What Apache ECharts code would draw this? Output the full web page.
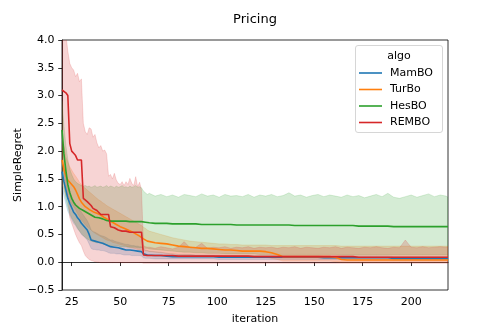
<!DOCTYPE html>
<html>
<head>
<meta charset="utf-8">
<script src="https://cdn.jsdelivr.net/npm/echarts@6/dist/echarts.min.js"></script>
<style>
  html, body { margin: 0; padding: 0; background: #fff; }
  #chart { width: 498px; height: 332px; }
</style>
</head>
<body>
<div id="chart"></div>
<script>
// iteration grid: every step early on, every 3rd later
const iters = [20,21,22,23,24,25,26,27,28,29,30,31,32,33,34,35,36,37,38,39,
  40,41,42,43,44,45,46,47,48,49,50,51,52,53,54,55,56,57,58,59,60,61,62,63,64,
  65,68,71,74,77,80,83,86,89,92,95,98,101,104,107,110,113,116,119,122,
  125,128,131,134,137,140,143,146,149,152,155,158,161,164,167,170,173,176,179,182,
  185,188,191,194,197,200,203,206,209,212,215,218,219];

const xTicks = [25, 50, 75, 100, 125, 150, 175, 200];
const algos = ['MamBO', 'TurBo', 'HesBO', 'REMBO'];
const colors = ['#1f77b4', '#ff7f0e', '#2ca02c', '#d62728'];

// MamBO
const mamboMean = [1.63,1.45,1.30,1.15,1.06,0.98,0.90,0.86,0.80,0.76,
  0.70,0.66,0.62,0.58,0.50,0.40,0.38,0.38,0.37,0.36,
  0.34,0.34,0.33,0.31,0.29,0.28,0.28,0.27,0.26,0.26,
  0.25,0.24,0.23,0.22,0.22,0.22,0.21,0.21,0.20,0.20,
  0.20,0.19,0.15,0.14,0.13,
  0.13,0.12,0.12,0.11,0.10,0.10,0.10,0.10,0.10,0.10,
  0.10,0.10,0.09,0.09,0.09,0.09,0.09,0.09,0.09,0.09,
  0.09,0.09,0.09,0.09,0.09,0.09,0.09,0.09,0.09,0.09,
  0.08,0.08,0.08,0.08,0.08,0.08,0.08,0.08,0.08,0.08,
  0.08,0.08,0.07,0.07,0.07,0.07,0.07,0.07,0.07,0.07,
  0.07,0.07,0.07];
const mamboHi = [1.85,1.70,1.55,1.40,1.28,1.18,1.10,1.05,1.00,0.95,
  0.90,0.85,0.80,0.75,0.68,0.58,0.55,0.54,0.52,0.50,
  0.48,0.47,0.46,0.44,0.42,0.40,0.40,0.38,0.37,0.36,
  0.35,0.34,0.33,0.32,0.32,0.31,0.30,0.30,0.29,0.29,
  0.28,0.28,0.24,0.22,0.21,
  0.20,0.19,0.18,0.16,0.15,0.14,0.14,0.14,0.13,0.13,
  0.13,0.13,0.13,0.12,0.12,0.12,0.12,0.12,0.12,0.12,
  0.12,0.12,0.12,0.12,0.12,0.12,0.12,0.12,0.12,0.12,
  0.11,0.11,0.11,0.11,0.11,0.11,0.11,0.11,0.11,0.11,
  0.11,0.11,0.10,0.10,0.10,0.10,0.10,0.10,0.10,0.10,
  0.10,0.10,0.10];
const mamboLo = [1.35,1.20,1.05,0.92,0.84,0.77,0.70,0.66,0.60,0.56,
  0.50,0.47,0.44,0.40,0.33,0.25,0.23,0.23,0.22,0.22,
  0.21,0.21,0.20,0.19,0.17,0.16,0.16,0.16,0.15,0.15,
  0.15,0.14,0.13,0.13,0.13,0.13,0.12,0.12,0.12,0.12,
  0.12,0.11,0.08,0.07,0.07,
  0.07,0.06,0.06,0.06,0.06,0.06,0.06,0.06,0.06,0.06,
  0.06,0.06,0.05,0.05,0.05,0.05,0.05,0.05,0.05,0.05,
  0.05,0.05,0.05,0.05,0.05,0.05,0.05,0.05,0.05,0.05,
  0.05,0.05,0.05,0.05,0.05,0.05,0.05,0.05,0.05,0.05,
  0.05,0.05,0.04,0.04,0.04,0.04,0.04,0.04,0.04,0.04,
  0.04,0.04,0.04];

// TurBo
const turboMean = [1.84,1.68,1.55,1.48,1.45,1.40,1.36,1.30,1.22,1.14,
  1.08,1.04,1.00,0.97,0.95,0.93,0.91,0.89,0.88,0.86,
  0.85,0.83,0.80,0.78,0.76,0.74,0.72,0.70,0.68,0.66,
  0.64,0.62,0.61,0.60,0.58,0.56,0.55,0.53,0.51,0.49,
  0.47,0.45,0.42,0.40,0.38,
  0.37,0.35,0.34,0.33,0.31,0.29,0.28,0.27,0.26,0.25,
  0.25,0.24,0.23,0.22,0.22,0.21,0.20,0.20,0.20,0.20,
  0.19,0.17,0.14,0.10,0.10,0.10,0.10,0.10,0.10,0.10,
  0.10,0.10,0.09,0.05,0.04,0.04,0.04,0.04,0.04,0.04,
  0.04,0.04,0.04,0.04,0.04,0.04,0.04,0.04,0.04,0.04,
  0.04,0.04,0.04];
const turboHi = [2.30,2.10,1.90,1.80,1.72,1.66,1.60,1.55,1.50,1.44,
  1.40,1.36,1.33,1.30,1.27,1.24,1.21,1.18,1.15,1.12,
  1.10,1.07,1.05,1.02,1.00,0.98,0.96,0.94,0.92,0.90,
  0.88,0.86,0.84,0.82,0.80,0.78,0.76,0.74,0.72,0.70,
  0.68,0.66,0.63,0.61,0.58,
  0.56,0.53,0.50,0.47,0.44,0.42,0.40,0.38,0.37,0.36,
  0.35,0.34,0.33,0.33,0.32,0.32,0.31,0.31,0.31,0.31,
  0.31,0.30,0.30,0.30,0.30,0.30,0.30,0.30,0.30,0.30,
  0.30,0.30,0.30,0.29,0.29,0.29,0.29,0.29,0.29,0.29,
  0.29,0.29,0.29,0.29,0.29,0.29,0.29,0.29,0.29,0.29,
  0.29,0.29,0.29];
const turboLo = [1.40,1.30,1.20,1.15,1.10,1.05,1.00,0.95,0.88,0.82,
  0.76,0.72,0.68,0.64,0.61,0.58,0.55,0.52,0.50,0.48,
  0.46,0.44,0.42,0.40,0.39,0.38,0.36,0.35,0.34,0.33,
  0.32,0.31,0.30,0.29,0.28,0.27,0.26,0.25,0.24,0.23,
  0.22,0.22,0.21,0.20,0.20,
  0.19,0.18,0.17,0.16,0.15,0.14,0.13,0.13,0.12,0.12,
  0.11,0.11,0.11,0.10,0.10,0.10,0.10,0.10,0.10,0.10,
  0.09,0.07,0.05,0.02,0.02,0.02,0.02,0.02,0.02,0.02,
  0.02,0.02,0.01,0.00,0.00,0.00,0.00,0.00,0.00,0.00,
  0.00,0.00,0.00,0.00,0.00,0.00,0.00,0.00,0.00,0.00,
  0.00,0.00,0.00];

// HesBO
const hesboMean = [2.38,1.95,1.65,1.40,1.25,1.15,1.08,1.03,1.00,0.97,
  0.95,0.93,0.91,0.89,0.87,0.85,0.83,0.81,0.80,0.80,
  0.79,0.78,0.76,0.75,0.74,0.74,0.74,0.74,0.74,0.74,
  0.74,0.74,0.74,0.74,0.74,0.73,0.73,0.73,0.73,0.73,
  0.73,0.73,0.72,0.72,0.71,
  0.71,0.70,0.70,0.70,0.69,0.69,0.69,0.69,0.69,0.68,
  0.68,0.68,0.68,0.68,0.68,0.67,0.67,0.67,0.67,0.67,
  0.67,0.67,0.67,0.67,0.67,0.66,0.66,0.66,0.66,0.66,
  0.66,0.66,0.66,0.66,0.66,0.66,0.65,0.65,0.65,0.65,
  0.65,0.65,0.64,0.64,0.64,0.64,0.64,0.64,0.64,0.64,
  0.64,0.64,0.64];
const hesboHi = [2.90,2.45,2.10,1.85,1.68,1.58,1.50,1.45,1.42,1.40,
  1.38,1.37,1.38,1.36,1.37,1.35,1.36,1.38,1.35,1.36,
  1.37,1.35,1.36,1.38,1.35,1.37,1.36,1.34,1.37,1.35,
  1.36,1.38,1.35,1.36,1.34,1.37,1.35,1.36,1.38,1.35,
  1.36,1.34,1.28,1.25,1.22,
  1.24,1.19,1.22,1.18,1.21,1.17,1.22,1.20,1.18,1.23,
  1.19,1.21,1.17,1.22,1.19,1.20,1.18,1.22,1.17,1.21,
  1.19,1.22,1.18,1.20,1.25,1.19,1.21,1.17,1.20,1.22,
  1.18,1.21,1.19,1.17,1.21,1.18,1.20,1.16,1.19,1.22,
  1.18,1.24,1.17,1.15,1.18,1.21,1.17,1.20,1.23,1.18,
  1.21,1.19,1.17];
const hesboLo = [1.80,1.40,1.15,1.00,0.88,0.80,0.74,0.68,0.62,0.56,
  0.52,0.48,0.45,0.42,0.40,0.38,0.37,0.36,0.35,0.35,
  0.34,0.33,0.32,0.31,0.30,0.30,0.30,0.29,0.29,0.29,
  0.28,0.28,0.28,0.28,0.27,0.27,0.27,0.27,0.27,0.26,
  0.26,0.26,0.25,0.25,0.25,
  0.24,0.23,0.22,0.21,0.20,0.19,0.18,0.18,0.17,0.17,
  0.16,0.16,0.16,0.15,0.15,0.15,0.15,0.15,0.15,0.14,
  0.14,0.14,0.14,0.14,0.14,0.14,0.14,0.14,0.14,0.14,
  0.14,0.14,0.14,0.13,0.13,0.13,0.13,0.13,0.13,0.13,
  0.13,0.13,0.13,0.13,0.13,0.13,0.13,0.13,0.13,0.13,
  0.13,0.13,0.13];

// REMBO
const remboMean = [3.10,3.08,3.05,3.00,2.14,2.00,1.96,1.92,1.84,1.84,
  1.84,1.15,1.12,1.09,1.09,1.02,0.97,0.97,0.93,0.91,
  0.86,0.86,0.86,0.86,0.86,0.64,0.64,0.62,0.60,0.58,
  0.56,0.56,0.56,0.56,0.56,0.54,0.54,0.54,0.54,0.54,
  0.54,0.54,0.13,0.13,0.12,
  0.12,0.12,0.12,0.12,0.12,0.11,0.11,0.11,0.11,0.11,
  0.11,0.11,0.11,0.11,0.11,0.11,0.11,0.11,0.10,0.10,
  0.10,0.10,0.10,0.10,0.10,0.10,0.10,0.10,0.10,0.10,
  0.10,0.10,0.10,0.10,0.10,0.10,0.09,0.09,0.09,0.09,
  0.09,0.09,0.09,0.09,0.09,0.09,0.09,0.09,0.09,0.09,
  0.09,0.09,0.09];
const remboHi = [4.60,4.40,4.10,3.80,3.58,3.50,3.46,3.34,3.40,3.25,
  3.30,2.50,2.35,2.30,2.42,2.40,2.25,2.30,2.15,2.06,
  2.10,2.00,2.02,1.95,1.55,1.58,1.50,1.60,1.48,1.42,
  1.40,1.45,1.38,1.45,1.40,1.51,1.42,1.38,1.54,1.36,
  1.44,1.30,0.30,0.28,0.27,
  0.27,0.25,0.28,0.26,0.24,0.27,0.37,0.26,0.27,0.34,
  0.25,0.27,0.26,0.28,0.25,0.27,0.26,0.28,0.25,0.27,
  0.26,0.27,0.25,0.27,0.26,0.28,0.25,0.27,0.26,0.25,
  0.27,0.26,0.28,0.25,0.27,0.26,0.25,0.27,0.26,0.28,
  0.26,0.25,0.27,0.26,0.40,0.27,0.26,0.28,0.26,0.27,
  0.28,0.27,0.28];
const remboLo = [1.80,1.60,1.40,1.20,0.80,0.70,0.60,0.50,0.42,0.35,
  0.30,0.20,0.12,0.08,0.05,0.03,0.02,0.01,0.00,0.00,
  -0.01,-0.01,-0.01,-0.01,-0.01,-0.01,-0.01,-0.01,-0.01,-0.01,
  -0.01,-0.01,-0.01,-0.01,-0.01,-0.01,-0.01,-0.01,-0.01,-0.01,
  -0.01,-0.01,-0.02,-0.02,-0.02,
  -0.02,-0.02,-0.02,-0.02,-0.02,-0.02,-0.02,-0.02,-0.02,-0.02,
  -0.02,-0.02,-0.02,-0.02,-0.02,-0.02,-0.02,-0.02,-0.02,-0.02,
  -0.02,-0.02,-0.02,-0.02,-0.02,-0.02,-0.02,-0.02,-0.02,-0.02,
  -0.02,-0.02,-0.02,-0.02,-0.02,-0.02,-0.02,-0.02,-0.02,-0.02,
  -0.02,-0.02,-0.02,-0.02,-0.02,-0.02,-0.02,-0.02,-0.02,-0.02,
  -0.02,-0.02,-0.02];

const means = [mamboMean, turboMean, hesboMean, remboMean];
const his = [mamboHi, turboHi, hesboHi, remboHi];
const los = [mamboLo, turboLo, hesboLo, remboLo];

const font = 'DejaVu Sans';

function hexA(hex, a) {
  const n = parseInt(hex.slice(1), 16);
  return 'rgba(' + (n >> 16) + ',' + ((n >> 8) & 255) + ',' + (n & 255) + ',' + a + ')';
}

// confidence band as one polygon through the axes' own scales
function bandSeries(k) {
  const lo = los[k], hi = his[k];
  return {
    name: algos[k] + ' band',
    type: 'custom',
    clip: true,
    silent: true,
    z: 1,
    encode: {x: 0, y: [1, 2]},
    data: iters.map((x, i) => [x, lo[i], hi[i]]),
    renderItem: function (params, api) {
      if (params.dataIndex !== 0) return;
      const pts = [];
      for (let i = 0; i < iters.length; i++) pts.push(api.coord([iters[i], hi[i]]));
      for (let i = iters.length - 1; i >= 0; i--) pts.push(api.coord([iters[i], lo[i]]));
      return {
        type: 'polygon',
        shape: {points: pts},
        style: {fill: hexA(colors[k], 0.2), stroke: hexA(colors[k], 0.2), lineWidth: 0.8}
      };
    }
  };
}

function lineSeries(k) {
  return {
    name: algos[k],
    type: 'line',
    z: 2,
    symbol: 'none',
    silent: true,
    color: colors[k],
    lineStyle: {width: 1.6, color: colors[k]},
    data: iters.map((x, i) => [x, means[k][i]])
  };
}

const series = [];
for (let k = 0; k < 4; k++) series.push(bandSeries(k));
for (let k = 0; k < 4; k++) series.push(lineSeries(k));

const chart = echarts.init(document.getElementById('chart'), null, {renderer: 'canvas'});
chart.setOption({
  animation: false,
  backgroundColor: '#fff',
  textStyle: {fontFamily: font},
  title: {
    text: 'Pricing',
    left: 255, top: 13, padding: 0, textAlign: 'center',
    textStyle: {fontFamily: font, fontSize: 13, fontWeight: 'normal', color: '#000'}
  },
  grid: {left: 62, top: 40, width: 386, height: 250, show: true, borderColor: '#000', borderWidth: 0.8, backgroundColor: 'transparent'},
  xAxis: {
    type: 'value', min: 20, max: 219,
    name: 'iteration', nameLocation: 'middle', nameGap: 24, nameMoveOverlap: false,
    nameTextStyle: {fontFamily: font, fontSize: 11, color: '#000'},
    axisLine: {show: true, lineStyle: {color: '#000', width: 0.8}},
    axisTick: {show: true, length: 3.8, lineStyle: {color: '#000', width: 0.8}, customValues: xTicks},
    axisLabel: {margin: 7, fontFamily: font, fontSize: 11, color: '#000', customValues: xTicks},
    splitLine: {show: false}
  },
  yAxis: {
    type: 'value', min: -0.5, max: 4, interval: 0.5,
    name: 'SimpleRegret', nameLocation: 'middle', nameGap: 38, nameRotate: 90, nameMoveOverlap: false,
    nameTextStyle: {fontFamily: font, fontSize: 11, color: '#000'},
    axisLine: {show: true, lineStyle: {color: '#000', width: 0.8}},
    axisTick: {show: true, length: 3.8, lineStyle: {color: '#000', width: 0.8}},
    axisLabel: {
      margin: 7.5, fontFamily: font, fontSize: 11, color: '#000',
      formatter: v => (v < 0 ? '\u2212' + Math.abs(v).toFixed(1) : v.toFixed(1))
    },
    splitLine: {show: false}
  },
  legend: {
    data: algos.map(n => ({name: n, icon: 'rect'})),
    orient: 'vertical',
    left: 354, top: 61,
    itemWidth: 23, itemHeight: 1.6, itemGap: 2.5,
    textStyle: {fontFamily: font, fontSize: 11, color: '#000', lineHeight: 14, padding: [0, 0, 0, 3]},
    selectedMode: false
  },
  graphic: [
    {
      type: 'rect', z: 3,
      shape: {x: 355.5, y: 45.5, width: 87, height: 87, r: 2.5},
      style: {fill: 'rgba(255,255,255,0.8)', stroke: '#cccccc', lineWidth: 0.8}
    },
    {
      type: 'text', z: 3,
      x: 399, y: 56,
      style: {text: 'algo', fontFamily: font, fontSize: 11, fill: '#000', align: 'center', verticalAlign: 'middle'}
    }
  ],
  series: series
});
</script>
</body>
</html>
